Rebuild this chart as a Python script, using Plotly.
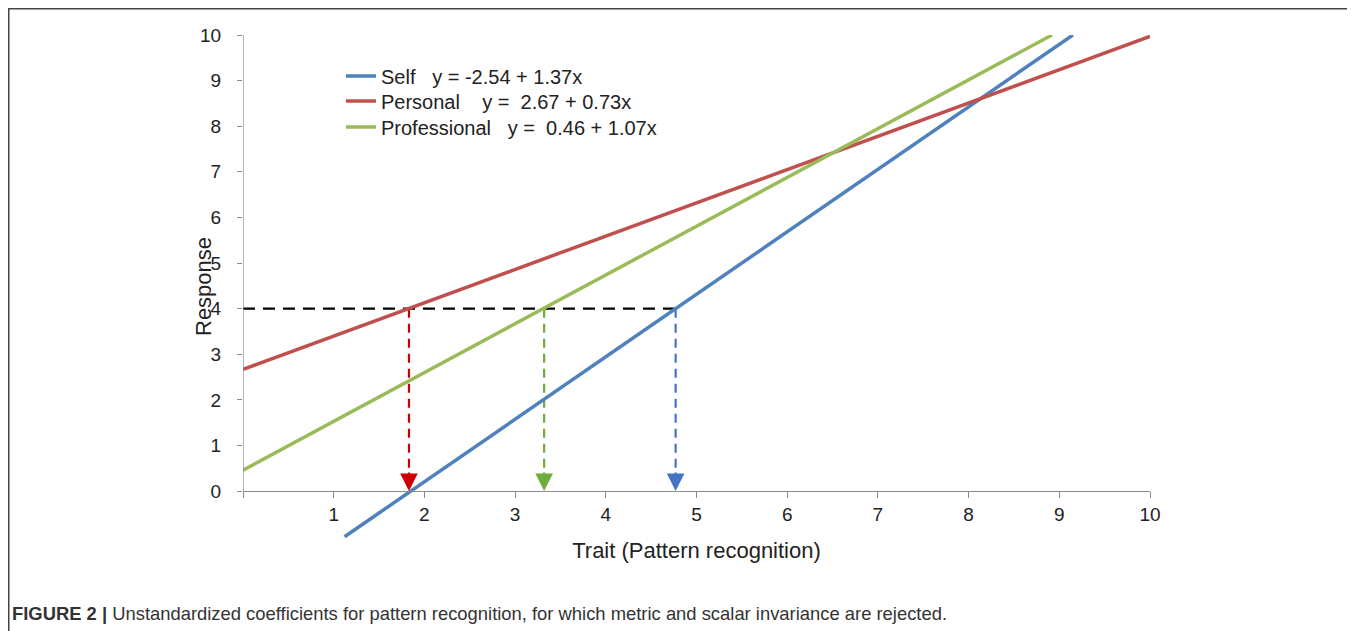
import plotly.graph_objects as go

# ---- data ----
series_names = ["Self", "Personal", "Professional"]
intercepts = ["-2.54", "2.67", "0.46"]
slopes = ["1.37", "0.73", "1.07"]
legend_gaps = ["\u00a0\u00a0\u00a0", "\u00a0\u00a0\u00a0\u00a0", "\u00a0\u00a0\u00a0"]
intercept_gaps = ["", "\u00a0", "\u00a0"]

self_x = [1.12, 9.15]
self_y = [-1.0, 10.0]
personal_x = [0.0, 10.0]
personal_y = [2.67, 9.97]
professional_x = [0.0, 8.92]
professional_y = [0.46, 10.0]

threshold = 4.0
crossing_x = [1.83, 3.32, 4.77]          # personal, professional, self
crossing_colors = ["#cc0000", "#6fac3e", "#4472c4"]

line_colors = ["#4f81bd", "#c0504d", "#9bbb59"]

x_ticks = [0, 1, 2, 3, 4, 5, 6, 7, 8, 9, 10]
x_ticktext = ["", "1", "2", "3", "4", "5", "6", "7", "8", "9", "10"]
y_ticks = [0, 1, 2, 3, 4, 5, 6, 7, 8, 9, 10]

FONT = "Liberation Sans, Arial, sans-serif"
AXIS_GRAY = "#8c8c8c"

# page body has an 8px margin: layout computed in screen pixels, figure shifted by 8
OFF = 8
PL, PR, PT, PB = 243, 1150, 35, 539     # plot area in screen pixels
PW, PH = PR - PL, PB - PT


def px(sx):
    return (sx - PL) / PW


def py(sy):
    return (PB - sy) / PH


fig = go.Figure()

# dashed helper lines (no legend)
fig.add_trace(go.Scatter(
    x=[0, max(crossing_x)], y=[threshold, threshold], mode="lines",
    line=dict(color="black", width=2.2, dash="12px,8px"),
    showlegend=False, hoverinfo="skip"))
for cx, cc in zip(crossing_x, crossing_colors):
    fig.add_trace(go.Scatter(
        x=[cx, cx], y=[threshold, 0.3], mode="lines",
        line=dict(color=cc, width=2.2, dash="9px,6px"),
        showlegend=False, hoverinfo="skip"))
    fig.add_annotation(x=cx, y=0, xref="x", yref="y", text="",
                       showarrow=True, ax=0, ay=-20, arrowhead=2,
                       arrowsize=1.6, arrowwidth=2.2, arrowcolor=cc)

all_x = [self_x, personal_x, professional_x]
all_y = [self_y, personal_y, professional_y]
legend_ids = ["legend", "legend2", "legend3"]
legend_rows = [76, 101, 127]   # screen y of legend rows
for name, b0, b1, g1, g2, xs, ys, col, lid in zip(series_names, intercepts, slopes,
                                                  legend_gaps, intercept_gaps,
                                                  all_x, all_y, line_colors, legend_ids):
    label = f"{name}{g1}y = {g2}{b0} + {b1}x"
    fig.add_trace(go.Scatter(x=xs, y=ys, mode="lines", name=label, legend=lid,
                             line=dict(color=col, width=3.5)))

# y-axis line only from 0 to 10
fig.add_shape(type="line", xref="x", yref="y", x0=0, x1=0, y0=0, y1=10,
              line=dict(color=AXIS_GRAY, width=1.3))

# outer frame (top + left)
fig.add_shape(type="line", xref="paper", yref="paper",
              x0=px(8), x1=px(1370), y0=py(8.5), y1=py(8.5),
              line=dict(color="#444444", width=2))
fig.add_shape(type="line", xref="paper", yref="paper",
              x0=px(8.5), x1=px(8.5), y0=py(8), y1=py(650),
              line=dict(color="#444444", width=2))

# y axis title
fig.add_annotation(text="Response", xref="paper", yref="paper",
                   x=px(203), y=py(287), textangle=-90,
                   showarrow=False, font=dict(family=FONT, size=22, color="#222"),
                   xanchor="center", yanchor="middle")

# caption
fig.add_annotation(text="<b>FIGURE 2 |</b> Unstandardized coefficients for pattern recognition, for which metric and scalar invariance are rejected.",
                   xref="paper", yref="paper", x=px(10), y=py(613),
                   showarrow=False, xanchor="left", yanchor="middle",
                   font=dict(family=FONT, size=18.4, color="#333"))

legend_style = dict(xanchor="left", yanchor="middle", bgcolor="rgba(0,0,0,0)",
                    font=dict(family=FONT, size=20, color="#222"), itemwidth=30)

y_min = -1.05
fig.update_layout(
    width=1355, height=631,
    margin=dict(l=PL - OFF, r=1355 - (PR - OFF), t=PT - OFF, b=631 - (PB - OFF)),
    paper_bgcolor="white", plot_bgcolor="white",
    font=dict(family=FONT, size=19, color="#222"),
    showlegend=True,
    legend=dict(x=px(341), y=py(legend_rows[0]), **legend_style),
    legend2=dict(x=px(341), y=py(legend_rows[1]), **legend_style),
    legend3=dict(x=px(341), y=py(legend_rows[2]), **legend_style),
    xaxis=dict(range=[0, 10], tickvals=x_ticks, ticktext=x_ticktext,
               showgrid=False, zeroline=False, showline=True, linecolor=AXIS_GRAY,
               linewidth=1.3, ticks="outside", ticklen=6, tickcolor=AXIS_GRAY,
               anchor="free", position=(0 - y_min) / (10 - y_min),
               tickfont=dict(size=19),
               title=dict(text="Trait (Pattern recognition)", font=dict(size=22), standoff=18)),
    yaxis=dict(range=[y_min, 10], tickvals=y_ticks, showgrid=False, zeroline=False,
               showline=False, ticks="outside", ticklen=5, tickcolor=AXIS_GRAY,
               ticklabelstandoff=12, tickfont=dict(size=19)),
)

fig.write_html("out.html")
